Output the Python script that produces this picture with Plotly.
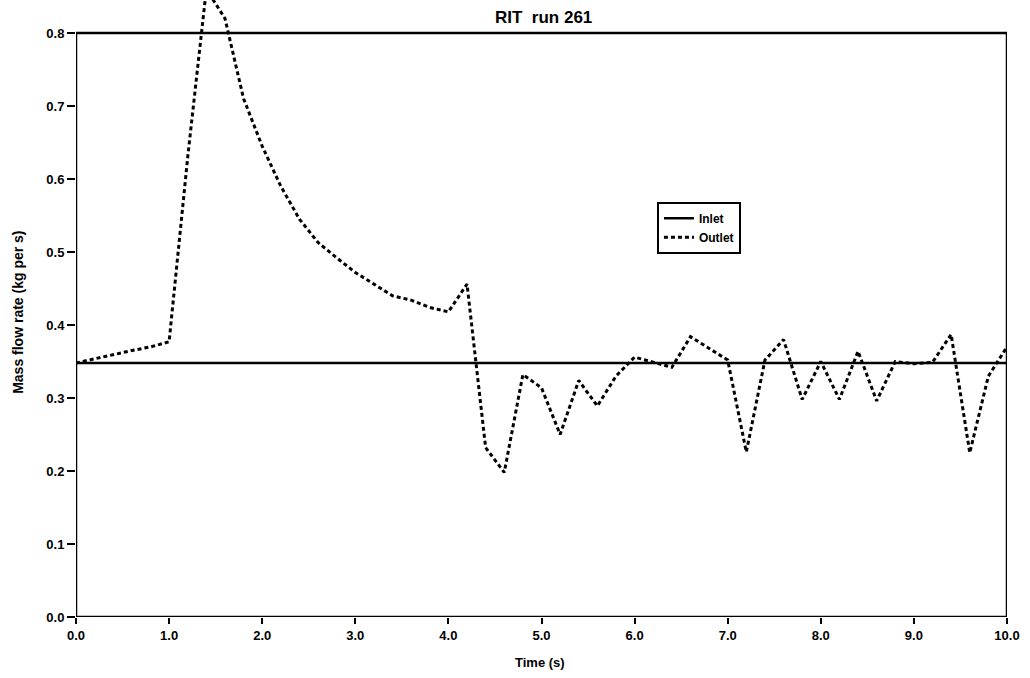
import plotly.graph_objects as go

# Data
time_s = [round(0.2 * i, 1) for i in range(51)]
outlet = [0.348, 0.354, 0.360, 0.365, 0.370, 0.377, 0.630, 0.860, 0.820, 0.710,
          0.645, 0.590, 0.545, 0.513, 0.492, 0.472, 0.456, 0.440, 0.434, 0.424,
          0.418, 0.456, 0.232, 0.198, 0.332, 0.314, 0.250, 0.324, 0.289, 0.330,
          0.356, 0.349, 0.342, 0.384, 0.368, 0.352, 0.226, 0.352, 0.380, 0.298,
          0.350, 0.298, 0.364, 0.296, 0.350, 0.347, 0.349, 0.387, 0.225, 0.330,
          0.370]
inlet_t = [0.0, 10.0]
inlet = [0.348, 0.348]

x_ticks = [0, 1, 2, 3, 4, 5, 6, 7, 8, 9, 10]
x_ticklabels = ["0.0", "1.0", "2.0", "3.0", "4.0", "5.0", "6.0", "7.0", "8.0", "9.0", "10.0"]
y_ticks = [0.0, 0.1, 0.2, 0.3, 0.4, 0.5, 0.6, 0.7, 0.8]
y_ticklabels = ["0.0", "0.1", "0.2", "0.3", "0.4", "0.5", "0.6", "0.7", "0.8"]

FONT = "Liberation Sans, Arial, sans-serif"

fig = go.Figure()
fig.add_trace(go.Scatter(x=inlet_t, y=inlet, mode="lines", name="<b>Inlet</b>",
                         line=dict(color="black", width=2.5)))
fig.add_trace(go.Scatter(x=time_s, y=outlet, mode="lines", name="<b>Outlet</b>",
                         line=dict(color="black", width=3, dash="4px,3px")))

# frame box (0..10, 0..0.8)
fig.add_shape(type="rect", xref="x", yref="y", x0=0, x1=10, y0=0, y1=0.8,
              line=dict(color="black", width=2.5), layer="above")

fig.add_annotation(text="<b>RIT  run 261</b>", xref="paper", yref="paper",
                   x=0.502, y=0.971, xanchor="center", yanchor="middle", showarrow=False,
                   font=dict(family=FONT, size=17, color="black"))
fig.add_annotation(text="<b>Mass flow rate (kg per s)</b>", xref="paper", yref="y",
                   x=-0.0623, y=0.418, xanchor="center", yanchor="middle", showarrow=False,
                   textangle=-90, font=dict(family=FONT, size=14, color="black"))
fig.add_annotation(text="<b>Time (s)</b>", xref="paper", yref="paper",
                   x=0.498, y=-0.073, xanchor="center", yanchor="middle", showarrow=False,
                   font=dict(family=FONT, size=13, color="black"))

fig.update_layout(
    width=1030, height=678,
    margin=dict(l=76, r=23, t=0, b=61),
    paper_bgcolor="white", plot_bgcolor="white",
    font=dict(family=FONT, size=12, color="black"),
    showlegend=True,
    legend=dict(x=0.624, y=0.673, xanchor="left", yanchor="top",
                bgcolor="white", bordercolor="black", borderwidth=2,
                font=dict(family=FONT, size=12, color="black"),
                itemwidth=30, tracegroupgap=0),
    xaxis=dict(range=[0, 10], tickmode="array", tickvals=x_ticks, ticktext=x_ticklabels,
               showgrid=False, zeroline=False, showline=False,
               ticks="outside", ticklen=6, tickwidth=2, tickcolor="black",
               tickfont=dict(family=FONT, size=13, color="black", weight="bold")),
    yaxis=dict(range=[0, 0.8452], tickmode="array", tickvals=y_ticks, ticktext=y_ticklabels,
               showgrid=False, zeroline=False, showline=False,
               ticks="outside", ticklen=8, tickwidth=2, tickcolor="black",
               tickfont=dict(family=FONT, size=13, color="black", weight="bold")),
)

fig.write_html("out.html")
